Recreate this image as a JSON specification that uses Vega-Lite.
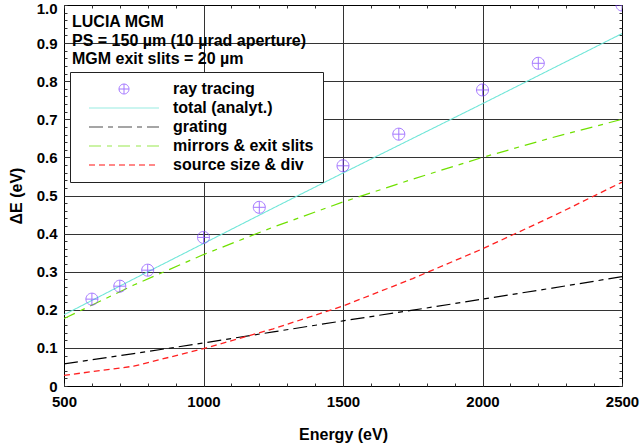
{
  "$schema": "https://vega.github.io/schema/vega-lite/v6.json",
  "width": 558,
  "height": 381,
  "autosize": "none",
  "padding": {"left": 64, "top": 5, "right": 18, "bottom": 58},
  "background": "white",
  "title": {
    "text": ["LUCIA MGM", "PS = 150 µm (10 µrad aperture)", "MGM exit slits = 20 µm"],
    "anchor": "start",
    "orient": "top",
    "frame": "group",
    "offset": 0,
    "baseline": "top",
    "dx": 8,
    "dy": 66,
    "font": "Liberation Sans",
    "fontSize": 16,
    "fontWeight": "bold",
    "lineHeight": 18.5,
    "color": "black"
  },
  "config": {
    "view": {"stroke": "black", "strokeWidth": 1},
    "font": "Liberation Sans",
    "legend": {
      "orient": "none",
      "legendX": 6,
      "legendY": 67,
      "fillColor": "white",
      "strokeColor": "#222222",
      "padding": 9,
      "labelFont": "Liberation Sans",
      "labelFontSize": 16,
      "labelFontWeight": "bold",
      "labelColor": "black",
      "symbolSize": 100,
      "symbolStrokeWidth": 1.5,
      "symbolOffset": 37,
      "labelOffset": 41,
      "rowPadding": 3,
      "symbolFillColor": "transparent"
    }
  },
  "data": {
    "values": [
      {"series": "ray tracing", "E": 600, "v": 0.228},
      {"series": "ray tracing", "E": 700, "v": 0.262},
      {"series": "ray tracing", "E": 800, "v": 0.304},
      {"series": "ray tracing", "E": 1000, "v": 0.39},
      {"series": "ray tracing", "E": 1200, "v": 0.469},
      {"series": "ray tracing", "E": 1500, "v": 0.578},
      {"series": "ray tracing", "E": 1700, "v": 0.661},
      {"series": "ray tracing", "E": 2000, "v": 0.777},
      {"series": "ray tracing", "E": 2200, "v": 0.847},
      {"series": "ray tracing", "E": 2500, "v": 1.0},
      {"series": "total (analyt.)", "E": 500, "v": 0.187},
      {"series": "total (analyt.)", "E": 750, "v": 0.281},
      {"series": "total (analyt.)", "E": 1000, "v": 0.374},
      {"series": "total (analyt.)", "E": 1250, "v": 0.467},
      {"series": "total (analyt.)", "E": 1500, "v": 0.559},
      {"series": "total (analyt.)", "E": 1750, "v": 0.65},
      {"series": "total (analyt.)", "E": 2000, "v": 0.741},
      {"series": "total (analyt.)", "E": 2250, "v": 0.833},
      {"series": "total (analyt.)", "E": 2500, "v": 0.925},
      {"series": "grating", "E": 500, "v": 0.058},
      {"series": "grating", "E": 750, "v": 0.085},
      {"series": "grating", "E": 1000, "v": 0.113},
      {"series": "grating", "E": 1250, "v": 0.142},
      {"series": "grating", "E": 1500, "v": 0.171},
      {"series": "grating", "E": 1750, "v": 0.199},
      {"series": "grating", "E": 2000, "v": 0.228},
      {"series": "grating", "E": 2250, "v": 0.257},
      {"series": "grating", "E": 2500, "v": 0.287},
      {"series": "mirrors & exit slits", "E": 500, "v": 0.177},
      {"series": "mirrors & exit slits", "E": 750, "v": 0.265},
      {"series": "mirrors & exit slits", "E": 1000, "v": 0.345},
      {"series": "mirrors & exit slits", "E": 1250, "v": 0.417},
      {"series": "mirrors & exit slits", "E": 1500, "v": 0.483},
      {"series": "mirrors & exit slits", "E": 1750, "v": 0.543},
      {"series": "mirrors & exit slits", "E": 2000, "v": 0.6},
      {"series": "mirrors & exit slits", "E": 2250, "v": 0.652},
      {"series": "mirrors & exit slits", "E": 2500, "v": 0.7},
      {"series": "source size & div", "E": 500, "v": 0.028},
      {"series": "source size & div", "E": 750, "v": 0.052},
      {"series": "source size & div", "E": 1000, "v": 0.098},
      {"series": "source size & div", "E": 1250, "v": 0.15},
      {"series": "source size & div", "E": 1500, "v": 0.21},
      {"series": "source size & div", "E": 1750, "v": 0.282},
      {"series": "source size & div", "E": 2000, "v": 0.36},
      {"series": "source size & div", "E": 2250, "v": 0.445},
      {"series": "source size & div", "E": 2500, "v": 0.535}
    ]
  },
  "layer": [
    {
      "transform": [{"filter": "datum.series != 'ray tracing'"}],
      "mark": {"type": "line", "clip": true},
      "encoding": {
        "x": {
          "field": "E", "type": "quantitative",
          "scale": {"domain": [500, 2500], "nice": false, "zero": false},
          "axis": {
            "orient": "bottom",
            "values": [500,600,700,800,900,1000,1100,1200,1300,1400,1500,1600,1700,1800,1900,2000,2100,2200,2300,2400,2500],
            "labelExpr": "datum.value % 500 == 0 ? format(datum.value, 'd') : ''",
            "grid": true,
            "gridColor": "#333333",
            "gridWidth": 1,
            "gridOpacity": {"condition": {"test": "datum.value % 500 == 0 && datum.value > 500 && datum.value < 2500", "value": 1}, "value": 0},
            "domain": false,
            "ticks": true,
            "tickSize": -3,
            "tickColor": "#333333",
            "labelFont": "Liberation Sans",
            "labelFontSize": 15,
            "labelFontWeight": "bold",
            "labelColor": "black",
            "labelPadding": 11,
            "labelFlush": false,
            "labelOverlap": false,
            "title": "Energy (eV)",
            "titleFont": "Liberation Sans",
            "titleFontSize": 16,
            "titleFontWeight": "bold",
            "titleColor": "black",
            "titlePadding": 17
          }
        },
        "y": {
          "field": "v", "type": "quantitative",
          "scale": {"domain": [0, 1], "nice": false},
          "axis": {
            "orient": "left",
            "values": [0,0.02,0.04,0.06,0.08,0.1,0.12,0.14,0.16,0.18,0.2,0.22,0.24,0.26,0.28,0.3,0.32,0.34,0.36,0.38,0.4,0.42,0.44,0.46,0.48,0.5,0.52,0.54,0.56,0.58,0.6,0.62,0.64,0.66,0.68,0.7,0.72,0.74,0.76,0.78,0.8,0.82,0.84,0.86,0.88,0.9,0.92,0.94,0.96,0.98,1.0],
            "labelExpr": "abs(datum.value*10 - round(datum.value*10)) < 0.01 ? (datum.value == 0 ? '0' : format(datum.value, '.1f')) : ''",
            "grid": true,
            "gridColor": "#333333",
            "gridWidth": 1,
            "gridOpacity": {"condition": {"test": "abs(datum.value*10 - round(datum.value*10)) < 0.01 && datum.value > 0.01 && datum.value < 0.99", "value": 1}, "value": 0},
            "domain": false,
            "ticks": true,
            "tickSize": -3,
            "tickColor": "#333333",
            "labelFont": "Liberation Sans",
            "labelFontSize": 15,
            "labelFontWeight": "bold",
            "labelColor": "black",
            "labelPadding": 10,
            "labelOffset": {"condition": {"test": "datum.value > 0.99", "value": 3}, "value": 0},
            "labelFlush": false,
            "labelOverlap": false,
            "title": "ΔE (eV)",
            "titleFont": "Liberation Sans",
            "titleFontSize": 16,
            "titleFontWeight": "bold",
            "titleColor": "black",
            "titlePadding": 12
          }
        },
        "color": {
          "field": "series", "type": "nominal",
          "scale": {
            "domain": ["ray tracing", "total (analyt.)", "grating", "mirrors & exit slits", "source size & div"],
            "range": ["#7f3fff", "#6fe6d8", "#000000", "#6fe000", "#ff2020"]
          },
          "legend": {"title": null}
        },
        "strokeDash": {
          "field": "series", "type": "nominal",
          "scale": {
            "domain": ["ray tracing", "total (analyt.)", "grating", "mirrors & exit slits", "source size & div"],
            "range": [[1, 0], [1, 0], [14, 5, 5, 5], [12, 6, 5, 6], [6, 4]]
          },
          "legend": {"title": null}
        },
        "strokeWidth": {
          "field": "series", "type": "nominal",
          "scale": {
            "domain": ["ray tracing", "total (analyt.)", "grating", "mirrors & exit slits", "source size & div"],
            "range": [1, 1.3, 2, 2, 1.5]
          },
          "legend": null
        }
      }
    },
    {
      "transform": [{"filter": "datum.series == 'ray tracing'"}],
      "mark": {"type": "point", "filled": false, "size": 144, "strokeWidth": 1, "clip": true},
      "encoding": {
        "x": {
          "field": "E", "type": "quantitative",
          "axis": {
            "orient": "top",
            "values": [500,600,700,800,900,1000,1100,1200,1300,1400,1500,1600,1700,1800,1900,2000,2100,2200,2300,2400,2500],
            "labels": false, "grid": false, "domain": false,
            "tickSize": -3, "tickColor": "#333333", "title": null
          }
        },
        "y": {
          "field": "v", "type": "quantitative",
          "axis": {
            "orient": "right",
            "values": [0,0.02,0.04,0.06,0.08,0.1,0.12,0.14,0.16,0.18,0.2,0.22,0.24,0.26,0.28,0.3,0.32,0.34,0.36,0.38,0.4,0.42,0.44,0.46,0.48,0.5,0.52,0.54,0.56,0.58,0.6,0.62,0.64,0.66,0.68,0.7,0.72,0.74,0.76,0.78,0.8,0.82,0.84,0.86,0.88,0.9,0.92,0.94,0.96,0.98,1.0],
            "labels": false, "grid": false, "domain": false,
            "tickSize": -3, "tickColor": "#333333", "title": null
          }
        },
        "color": {
          "field": "series", "type": "nominal",
          "legend": {"title": null}
        },
        "shape": {
          "field": "series", "type": "nominal",
          "scale": {
            "domain": ["ray tracing", "total (analyt.)", "grating", "mirrors & exit slits", "source size & div"],
            "range": ["M-1,0A1,1 0 1,0 1,0A1,1 0 1,0 -1,0M-1,0L1,0M0,-1L0,1", "M-7,0L7,0", "M-7,0L7,0", "M-7,0L7,0", "M-7,0L7,0"]
          },
          "legend": {"title": null}
        }
      }
    }
  ],
  "resolve": {"axis": {"x": "independent", "y": "independent"}}
}
